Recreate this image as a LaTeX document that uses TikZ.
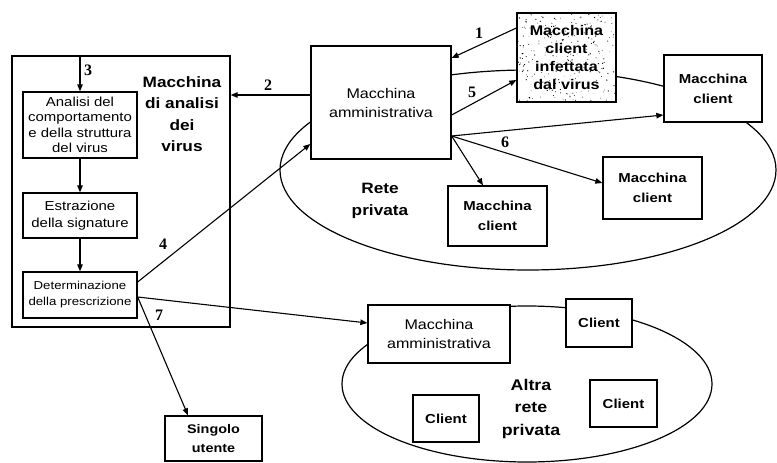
\documentclass[tikz,border=0pt]{standalone}
\usepackage{fontspec}
\setmainfont{Liberation Sans}[FakeStretch=1.15]
\newfontfamily\numfont{Liberation Serif}
\usetikzlibrary{arrows.meta,calc}
\newcommand\setfs[2]{\fontsize{#1}{#2}\selectfont}

\begin{document}
\begin{tikzpicture}[x=1pt,y=-1pt,
  box/.style={draw,line width=1.3pt,fill=white,inner sep=0pt,align=center},
  net/.style={line width=1.2pt},
  conn/.style={line width=1.1pt},
  arr/.style={conn,-{Triangle[length=7pt,width=5.5pt]}},
  num/.style={font=\numfont\bfseries\setfs{16}{16}, inner sep=0pt},
  lbl/.style={font=\bfseries\setfs{15}{21.5}, inner sep=0pt, align=center},
  small/.style={font=\setfs{13}{15.5}},
  client/.style={box,font=\bfseries\setfs{13}{20}},
  speckle/.style={path picture={
    \pgfmathsetseed{31}
    \foreach \k in {1,...,260}{
      \fill[black] ($(path picture bounding box.north west)+(99*rnd,89*rnd)$) circle[radius=0.3+0.4*rnd];
    }}}
]
\useasboundingbox (0,0) rectangle (777,463);

% the two private networks
\draw[net] (528,170) ellipse [x radius=248, y radius=100];
\draw[net] (527,384) ellipse [x radius=185, y radius=78];

% virus analysis machine
\node[box,minimum width=218pt,minimum height=271pt] (virusbox) at (121,191.5) {};
\node[lbl] (vtitle) at (182,114) {Macchina\\di analisi\\dei\\virus};
\node[box,small,minimum width=114pt,minimum height=66pt] (analisi) at (80,125)
  {Analisi del\\comportamento\\e della struttura\\del virus};
\node[box,font=\setfs{13}{17},minimum width=114pt,minimum height=45pt] (estraz) at (80,215.5)
  {Estrazione\\della signature};
\node[box,font=\setfs{11.5}{16},minimum width=114pt,minimum height=46pt] (determ) at (80,295)
  {Determinazione\\della prescrizione};

% first private network
\node[box,font=\setfs{14}{19},minimum width=140pt,minimum height=113pt] (admin) at (381,102.5)
  {Macchina\\amministrativa};
\node[box,speckle,font=\bfseries\setfs{14}{18.3},minimum width=99pt,minimum height=89pt] (infected) at (566.5,57.5)
  {Macchina\\client\\infettata\\dal virus};
\node[client,minimum width=98pt,minimum height=67pt] (clientR) at (713,88.5) {Macchina\\client};
\node[client,minimum width=99pt,minimum height=62pt] (clientM) at (652.5,188) {Macchina\\client};
\node[client,minimum width=99pt,minimum height=60pt] (clientB) at (497.5,216) {Macchina\\client};
\node[lbl] (rete) at (380,201) {Rete\\privata};

% second private network
\node[box,font=\setfs{14}{19},minimum width=142pt,minimum height=58pt] (admin2) at (439,334)
  {Macchina\\amministrativa};
\node[client,minimum width=66pt,minimum height=48pt] (cl1) at (599,323) {Client};
\node[client,minimum width=67pt,minimum height=47pt] (cl2) at (623.5,403.5) {Client};
\node[client,minimum width=66pt,minimum height=47pt] (cl3) at (446,418.5) {Client};
\node[lbl,font=\bfseries\setfs{15.5}{22.5}] (altra) at (531,408.5) {Altra\\rete\\privata};

% single user
\node[box,font=\bfseries\setfs{12.5}{19},minimum width=97pt,minimum height=45pt] (singolo) at (213.5,438.5)
  {Singolo\\utente};

% attachment points
\coordinate (a1) at ($(admin.east)+(0,-44.5)$);
\coordinate (a2) at ($(admin.west)+(0,-7.5)$);
\coordinate (a4) at ($(admin.west)+(0,41.5)$);
\coordinate (a5) at ($(admin.east)+(0,12.5)$);
\coordinate (a6) at ($(admin.east)+(0,33.5)$);
\coordinate (i1) at ($(infected.west)+(0,-29.5)$);
\coordinate (i5) at ($(infected.west)+(0,22.5)$);
\coordinate (cR) at ($(clientR.west)+(0,26.5)$);
\coordinate (cM) at ($(clientM.west)+(0,-5)$);
\coordinate (cB) at ($(clientB.north)+(-14.5,0)$);
\coordinate (d4) at ($(determ.east)+(0,-13)$);
\coordinate (d7) at ($(determ.east)+(0,2)$);
\coordinate (m2) at ($(admin2.west)+(0,-11)$);
\coordinate (su) at ($(singolo.north)+(-25.5,0)$);

% flow inside the analysis machine
\draw[arr] (analisi.north |- virusbox.north) -- (analisi.north);
\draw[arr] (analisi.south) -- (estraz.north);
\draw[arr] (estraz.south) -- (determ.north);

% numbered steps
\draw[arr] (i1) -- (a1);
\draw[arr] (a2) -- (a2 -| virusbox.east);
\draw[arr] (d4) -- (a4);
\draw[arr] (a5) -- (i5);
\draw[arr] (a6) -- (cR);
\draw[arr] (a6) -- (cM);
\draw[arr] (a6) -- (cB);
\draw[arr] (d7) -- (m2);
\draw[arr] (d7) -- (su);

\node[num] (n1) at (479,33) {1};
\node[num] (n2) at (268,85) {2};
\node[num] (n3) at (88,70) {3};
\node[num] (n4) at (163,244) {4};
\node[num] (n5) at (472,92) {5};
\node[num] (n6) at (505,142) {6};
\node[num] (n7) at (159,315) {7};
\end{tikzpicture}
\end{document}
